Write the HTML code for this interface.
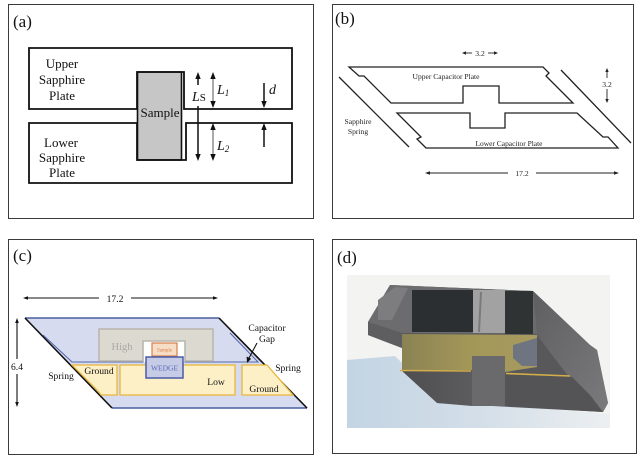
<!DOCTYPE html>
<html><head><meta charset="utf-8"><style>
html,body{margin:0;padding:0;background:#fff;}
svg{display:block;}
text{font-family:"Liberation Serif","DejaVu Serif",serif;}
</style></head><body>
<svg width="643" height="461" viewBox="0 0 643 461" xmlns="http://www.w3.org/2000/svg">
<rect width="643" height="461" fill="#fff"/>
<!-- panel borders -->
<g fill="none" stroke="#3a3a3a" stroke-width="1">
<rect x="8.5" y="4.5" width="305" height="214"/>
<rect x="332.5" y="4.5" width="301" height="214"/>
<rect x="8.5" y="239.5" width="305" height="215"/>
<rect x="332.5" y="239.5" width="304" height="214"/>
</g>

<!-- ===== (a) ===== -->
<text x="13" y="27" font-size="17" fill="#111">(a)</text>
<rect x="137.5" y="72" width="44" height="88" fill="#c6c6c6" stroke="#111" stroke-width="1.6"/>
<path d="M29,48 H292 V109 H184 V72 H137 V109 H29 Z" fill="none" stroke="#111" stroke-width="1.8"/>
<path d="M29,123 H137 V160 H186 V123 H292 V183 H29 Z" fill="none" stroke="#111" stroke-width="1.8"/>
<g font-size="13" fill="#111" text-anchor="middle">
<text x="62" y="68">Upper</text>
<text x="62" y="84">Sapphire</text>
<text x="62" y="100">Plate</text>
<text x="61" y="147">Lower</text>
<text x="62" y="162">Sapphire</text>
<text x="62" y="177">Plate</text>
<text x="160" y="117">Sample</text>
</g>
<g stroke="#111" stroke-width="1.5">
<line x1="198" y1="85" x2="198" y2="77"/>
<line x1="198" y1="106" x2="198" y2="155"/>
<line x1="264" y1="83" x2="264" y2="103"/>
<line x1="264" y1="147" x2="264" y2="128"/>
</g>
<g stroke="#444" stroke-width="0.9">
<line x1="213" y1="76" x2="213" y2="104"/>
<line x1="213" y1="127" x2="213" y2="156"/>
</g>
<g fill="#111">
<polygon points="198,72 195.3,79 200.7,79"/>
<polygon points="198,161 195.3,154 200.7,154"/>
<polygon points="213,72 210.3,79 215.7,79"/>
<polygon points="213,108 210.3,101 215.7,101"/>
<polygon points="213,123 210.3,130 215.7,130"/>
<polygon points="213,161 210.3,154 215.7,154"/>
<polygon points="264,108 261.3,101 266.7,101"/>
<polygon points="264,123 261.3,130 266.7,130"/>
</g>
<g fill="#111">
<text x="192" y="101" font-size="14" font-style="italic">L<tspan font-style="normal" font-size="11">S</tspan></text>
<text x="217" y="94" font-size="14" font-style="italic">L<tspan font-size="9" dy="2">1</tspan></text>
<text x="217" y="150" font-size="14" font-style="italic">L<tspan font-size="9" dy="2">2</tspan></text>
<text x="269" y="94" font-size="14" font-style="italic">d</text>
</g>

<!-- ===== (b) ===== -->
<text x="335" y="24" font-size="17" fill="#111">(b)</text>
<g fill="none" stroke="#222" stroke-width="1.3">
<path d="M349,67 H543 L549,73 L546,76 L573,103 H499 V86 H463 V103 H391 L364,76 H359 Z"/>
<path d="M397,113 H470 V128 H505 V113 H577 L603,137 H608 L618,148 H426 L417,139 L421,137 Z"/>
<line x1="339" y1="77" x2="409" y2="147"/>
<line x1="561" y1="70" x2="631" y2="143"/>
</g>
<g font-size="7.6" fill="#222" text-anchor="middle">
<text x="446" y="79" textLength="67" lengthAdjust="spacingAndGlyphs">Upper Capacitor Plate</text>
<text x="509" y="146" textLength="67" lengthAdjust="spacingAndGlyphs">Lower Capacitor Plate</text>
<text x="358" y="124">Sapphire</text>
<text x="358" y="134">Spring</text>
<text x="480" y="56">3.2</text>
<text x="607" y="87">3.2</text>
<text x="522" y="176">17.2</text>
</g>
<g stroke="#222" stroke-width="0.9">
<line x1="464" y1="53" x2="472" y2="53"/>
<line x1="488" y1="53" x2="496" y2="53"/>
<line x1="607" y1="71" x2="607" y2="78"/>
<line x1="607" y1="89" x2="607" y2="100"/>
<line x1="428" y1="173" x2="508" y2="173"/>
<line x1="536" y1="173" x2="616" y2="173"/>
</g>
<g fill="#222">
<polygon points="462,53 466,51.3 466,54.7"/>
<polygon points="498,53 494,51.3 494,54.7"/>
<polygon points="607,68 605.3,72 608.7,72"/>
<polygon points="607,103 605.3,99 608.7,99"/>
<polygon points="425,173 430,171.3 430,174.7"/>
<polygon points="619,173 614,171.3 614,174.7"/>
</g>

<!-- ===== (c) ===== -->
<text x="13" y="261" font-size="17" fill="#111">(c)</text>
<polygon points="25,318 219,318 307,408 112,408" fill="#d6dbf0"/>
<line x1="25" y1="318" x2="219" y2="318" stroke="#4b5e9e" stroke-width="1.5"/>
<line x1="112" y1="408" x2="307" y2="408" stroke="#4b5e9e" stroke-width="1.5"/>
<line x1="25" y1="318" x2="112" y2="408" stroke="#111" stroke-width="1.6"/>
<line x1="219" y1="318" x2="307" y2="408" stroke="#111" stroke-width="1.6"/>
<rect x="143" y="341" width="42" height="21" fill="#fff"/>
<path d="M43,335 L72,362 H143 V341 H185 V362 H258 L230,333" fill="none" stroke="#5468aa" stroke-width="1.1"/>
<path d="M99,329 H213 V361 H185 V341 H143 V361 H99 Z" fill="#dcd9d0" stroke="#b8b5ae" stroke-width="1.5"/>
<text x="122" y="350" font-size="10.5" fill="#aba9a3" text-anchor="middle">High</text>
<rect x="152" y="343" width="25" height="13" fill="#f7dcc6" stroke="#d5804a" stroke-width="1.2"/>
<text x="164.5" y="351.5" font-size="5" fill="#d5804a" text-anchor="middle">Sample</text>
<g fill="#fdf0c6" stroke="#e9b73a" stroke-width="1.3">
<polygon points="72,365 117,365 117,395 101,395 98,391"/>
<rect x="120" y="365" width="115" height="30"/>
<polygon points="242,365 267,365 293,395 242,395"/>
</g>
<rect x="146" y="357" width="37" height="21" fill="#c6cbe6" stroke="#4a5ba8" stroke-width="1.5"/>
<text x="164.5" y="370.5" font-size="7.5" fill="#5a6ab8" text-anchor="middle">WEDGE</text>
<g font-size="9.6" fill="#111" text-anchor="middle">
<text x="99" y="374">Ground</text>
<text x="61" y="379">Spring</text>
<text x="216" y="385">Low</text>
<text x="264" y="392">Ground</text>
<text x="267" y="331">Capacitor</text>
<text x="267" y="342">Gap</text>
<text x="288" y="371">Spring</text>
<text x="115" y="302">17.2</text>
<text x="17" y="370">6.4</text>
</g>
<g stroke="#111" stroke-width="1.1">
<line x1="27" y1="298" x2="99" y2="298"/>
<line x1="131" y1="298" x2="214" y2="298"/>
<line x1="17" y1="322" x2="17" y2="359"/>
<line x1="17" y1="374" x2="17" y2="403"/>
<line x1="257" y1="343" x2="249" y2="358"/>
</g>
<g fill="#111">
<polygon points="23,298 28,296.2 28,299.8"/>
<polygon points="218,298 213,296.2 213,299.8"/>
<polygon points="17,318 15.2,323 18.8,323"/>
<polygon points="17,407 15.2,402 18.8,402"/>
<polygon points="247,363 246.6,356.5 251.2,358.8"/>
</g>

<!-- ===== (d) ===== -->
<text x="337" y="263" font-size="17" fill="#111">(d)</text>
<defs>
<linearGradient id="bg" x1="0" y1="0" x2="1" y2="0">
<stop offset="0" stop-color="#c3d4e3"/><stop offset="0.5" stop-color="#d3dee8"/><stop offset="1" stop-color="#eceff1"/>
</linearGradient>
<linearGradient id="gold" x1="0" y1="0" x2="1" y2="0">
<stop offset="0" stop-color="#8a8254"/><stop offset="0.5" stop-color="#a39758"/><stop offset="1" stop-color="#a89a60"/>
</linearGradient>
<linearGradient id="rface" x1="0" y1="0" x2="1" y2="1">
<stop offset="0" stop-color="#5f5f62"/><stop offset="1" stop-color="#7a7a7d"/>
</linearGradient>
<linearGradient id="low" x1="0" y1="0" x2="1" y2="0">
<stop offset="0" stop-color="#4e4e50"/><stop offset="1" stop-color="#5c5c5e"/>
</linearGradient>
</defs>
<rect x="347" y="275" width="263" height="153" fill="#f3f3f1"/>
<polygon points="347,360 395,356 440,400 610,414 610,428 347,428" fill="url(#bg)"/>
<polygon points="390,285 533,291 590,345 597,350 608,403 603,412 437,403 410,372 402,348 368,335 368,322" fill="#58585b"/>
<polygon points="533,291 590,345 597,350 608,403 603,412 585,395 565,372 537,335" fill="url(#rface)"/>
<polygon points="390,285 533,291 537,334 402,333 368,322" fill="#6c6c6f"/>
<polygon points="378,300 395,287 408,288 392,320 378,320" fill="#7d7d80"/>
<rect x="412" y="290" width="61" height="42" fill="#2c2f31"/>
<rect x="473" y="290" width="32" height="43" fill="#a2a2a3"/>
<line x1="481" y1="292" x2="479" y2="332" stroke="#7a7a7c" stroke-width="2"/>
<rect x="505" y="291" width="28" height="43" fill="#303334"/>
<polygon points="368,322 402,333 402,348 368,335" fill="#5e5e61"/>
<polygon points="402,334 537,335 537,367 505,372 505,356 472,356 472,370 402,370" fill="url(#gold)"/>
<polygon points="513,345 537,338 537,366 522,366 513,358" fill="#6f7580"/>
<rect x="472" y="356" width="33" height="50" fill="#6a6a6d"/>
<polygon points="402,371 472,371 472,406 437,403" fill="url(#low)"/>
<polygon points="505,374 572,377 590,395 603,412 505,406" fill="#545457"/>
<line x1="400" y1="370.5" x2="471" y2="371" stroke="#d4ae4a" stroke-width="1.6"/>
<line x1="506" y1="373.5" x2="570" y2="376" stroke="#d4ae4a" stroke-width="1.6"/>
</svg>
</body></html>
